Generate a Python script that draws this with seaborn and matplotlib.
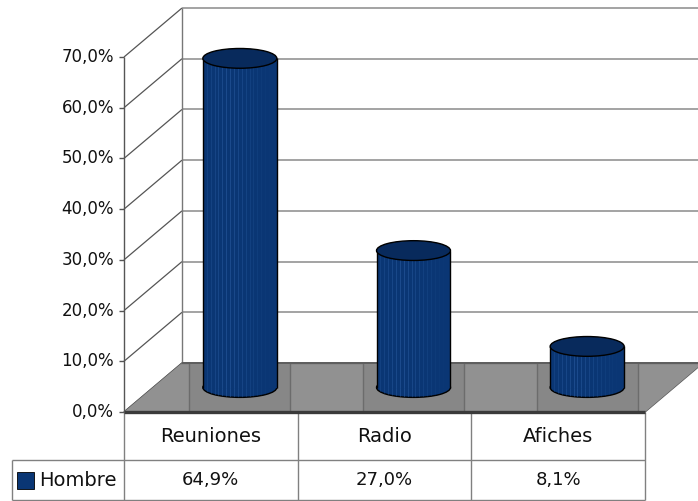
import numpy as np
import matplotlib
matplotlib.use("Agg")
import matplotlib.pyplot as plt
import matplotlib.transforms as mtransforms
from matplotlib.patches import Ellipse, Polygon, Rectangle
import seaborn as sns

# data
categories = ["Reuniones", "Radio", "Afiches"]
hombre = [64.9, 27.0, 8.1]
value_labels = ["64,9%", "27,0%", "8,1%"]
series_name = "Hombre"
y_ticks = [0, 10, 20, 30, 40, 50, 60, 70]
y_tick_labels = ["0,0%", "10,0%", "20,0%", "30,0%", "40,0%", "50,0%", "60,0%", "70,0%"]

# style
BAR_COLOR = "#0a3674"
TOP_COLOR = "#082a5c"
STRIPE_COLOR = "#2f63a8"
FLOOR_COLOR = "#878787"
PANEL_COLOR = "#919191"
GRID_COLOR = "#8a8a8a"
TEXT_COLOR = "#111111"

DX, DY = 0.167, 4.83      # half depth of the 3d box (data units)
BAR_W = 0.426
ELL_H = 3.9

sns.set_style("white")
plt.rcParams["font.family"] = ["DejaVu Sans"]

fig = plt.figure(figsize=(6.98, 5.01), dpi=100)
ax = fig.add_axes([153 / 698, 113.5 / 501, 521 / 698, 355 / 501])

n = len(categories)
x_lo, x_hi = -0.5, n - 0.5
y_top = y_ticks[-1]
kw = dict(clip_on=False, solid_capstyle="butt")


def clip_to(artist, patch):
    artist.set_clip_path(patch)
    artist.set_clip_box(None)
    artist.set_clip_on(True)


# back wall + side wall + front axis
for t, lab in zip(y_ticks, y_tick_labels):
    ax.plot([x_lo + DX, x_hi + DX], [t + DY] * 2, color=GRID_COLOR, lw=1.1, zorder=0, **kw)
    ax.plot([x_lo - DX, x_lo + DX], [t - DY, t + DY], color="#555555", lw=0.9, zorder=0, **kw)
    ax.plot([x_lo - DX - 0.03, x_lo - DX], [t - DY] * 2, color="#555555", lw=1, zorder=0, **kw)
    ax.text(x_lo - DX, t - DY, lab, ha="right", va="center", fontsize=12, color=TEXT_COLOR,
            transform=mtransforms.offset_copy(ax.transData, fig, x=-10, y=0, units="dots"))
ax.plot([x_lo + DX] * 2, [DY, y_top + DY], color="#777777", lw=1, zorder=0, **kw)
ax.plot([x_lo - DX] * 2, [-DY, y_top - DY], color="#555555", lw=1, zorder=0, **kw)

# floor
floor = Polygon([(x_lo - DX, -DY), (x_hi - DX, -DY), (x_hi + DX, DY), (x_lo + DX, DY)],
                closed=True, facecolor=FLOOR_COLOR, edgecolor="#5c5c5c", lw=1, zorder=1, clip_on=False)
ax.add_patch(floor)
for b in np.arange(x_lo, x_hi + 1):
    r = Rectangle((b - 0.21, -DY), 0.42, 2 * DY, facecolor=PANEL_COLOR, edgecolor="#6c6c6c",
                  lw=1, zorder=1.2)
    ax.add_patch(r)
    clip_to(r, floor)
ax.plot([x_lo + DX, x_hi + DX], [DY] * 2, color="#5c5c5c", lw=1.2, zorder=1.3, **kw)
ax.plot([x_lo - DX, x_hi - DX], [-DY] * 2, color="#3a3a3a", lw=2.4, zorder=2, **kw)

# cylinders
sns.barplot(x=categories, y=hombre, color=BAR_COLOR, saturation=1, width=BAR_W,
            linewidth=0, ax=ax, zorder=3)
bars = list(ax.patches)[-n:]
for bar, v in zip(bars, hombre):
    bar.set_clip_on(False)
    x0, w = bar.get_x(), bar.get_width()
    cx = x0 + w / 2
    base = Ellipse((cx, 0), w, ELL_H, facecolor=BAR_COLOR, edgecolor="none", zorder=2.5, clip_on=False)
    ax.add_patch(base)
    xs = np.linspace(x0, x0 + w, 20)[1:-1]
    shade = np.abs(np.linspace(-1, 1, len(xs)) + 0.35)
    for xx, s in zip(xs, shade):
        a = 0.5 * max(0.0, 1 - s / 1.3)
        ax.vlines(xx, 0, v, colors=STRIPE_COLOR, alpha=a, lw=0.7, zorder=3.5, clip_on=False)
        low = ax.vlines(xx, -ELL_H / 2, 0, colors=STRIPE_COLOR, alpha=a, lw=0.7, zorder=3.5)
        clip_to(low, base)
    ax.add_patch(Ellipse((cx, 0), w, ELL_H, facecolor="none", edgecolor="black", lw=1,
                         zorder=2.6, clip_on=False))
    ax.vlines([x0, x0 + w], 0, v, colors="black", lw=1, zorder=4, clip_on=False)
    ax.add_patch(Ellipse((cx, v), w, ELL_H, facecolor=TOP_COLOR, edgecolor="black",
                         lw=1, zorder=5, clip_on=False))

# data table
row1 = (387.5 - 460) / 5.071
row2 = (387.5 - 500) / 5.071
x_leg = x_lo - DX - 112 / 173.67
tcol = "#808080"
for b in np.arange(x_lo, x_hi + 1):
    ax.plot([b - DX] * 2, [-DY, row2], color=tcol, lw=1, zorder=1, **kw)
ax.plot([x_leg, x_hi - DX], [row1] * 2, color=tcol, lw=1, **kw)
ax.plot([x_leg, x_hi - DX], [row2] * 2, color=tcol, lw=1, **kw)
ax.plot([x_leg] * 2, [row1, row2], color=tcol, lw=1, **kw)

for i, (cat, lab) in enumerate(zip(categories, value_labels)):
    ax.text(i - DX, (-DY + row1) / 2, cat, ha="center", va="center", fontsize=14, color=TEXT_COLOR)
    ax.text(i - DX, (row1 + row2) / 2, lab, ha="center", va="center", fontsize=13, color=TEXT_COLOR)

ymid = (row1 + row2) / 2
ax.add_patch(Rectangle((x_leg + 5 / 173.67, ymid - 8.5 / 5.071), 17 / 173.67, 17 / 5.071,
                       facecolor=BAR_COLOR, edgecolor="black", lw=0.6, clip_on=False))
ax.text(x_leg + 27 / 173.67, ymid, series_name, ha="left", va="center", fontsize=14, color=TEXT_COLOR)

ax.set_xlim(x_lo, x_hi)
ax.set_ylim(0, y_top)
ax.axis("off")

fig.savefig("out.png", dpi=100)
